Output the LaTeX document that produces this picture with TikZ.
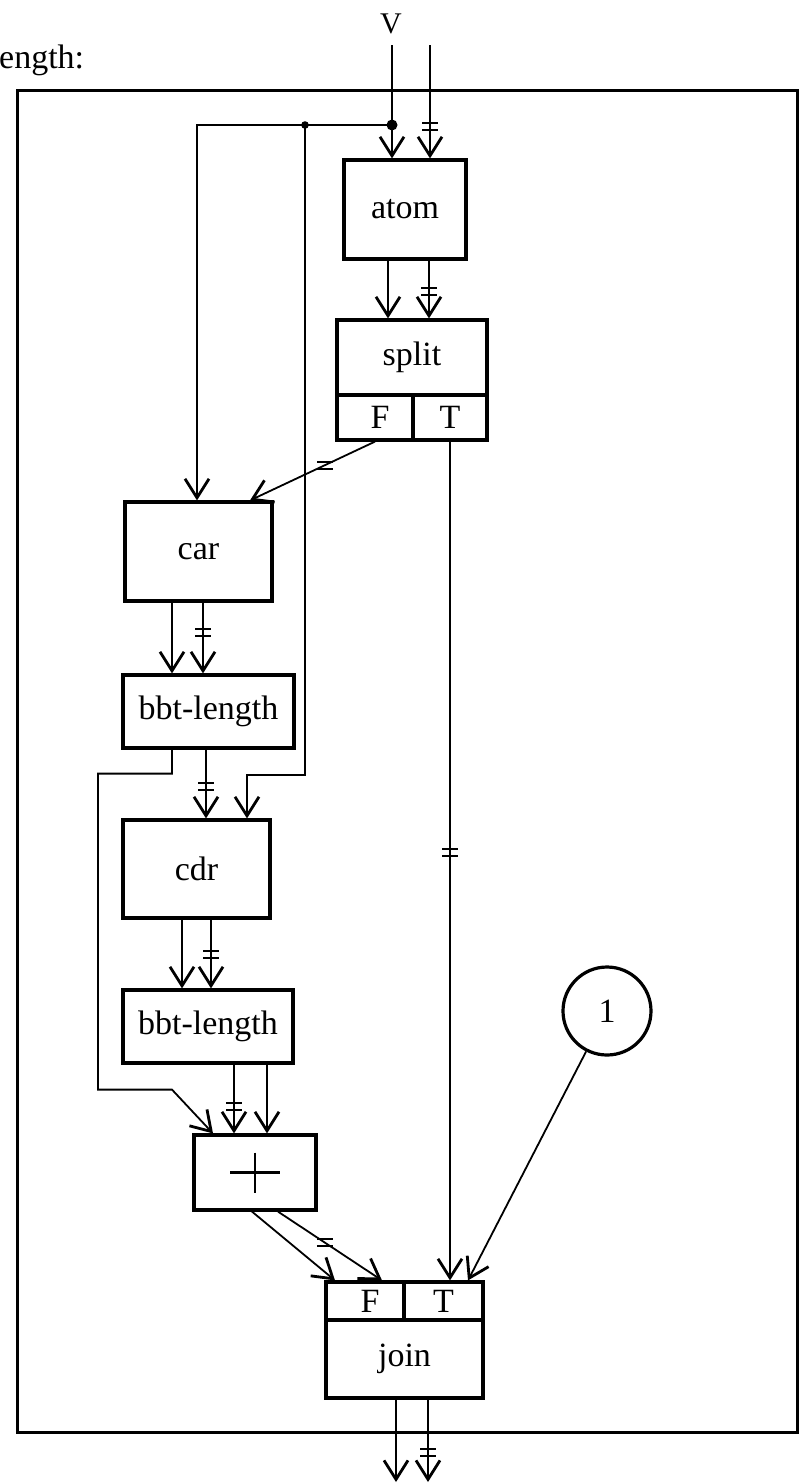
\documentclass[tikz,border=0pt]{standalone}
\usepackage{fontspec}
\setmainfont{Liberation Serif}
\usetikzlibrary{arrows.meta,calc}
\newcommand\tk[1]{\draw[line width=2pt] ([xshift=-8pt,yshift=3.5pt]#1) -- ++(16,0) ([xshift=-8pt,yshift=-3.5pt]#1) -- ++(16,0);}
\begin{document}
\begin{tikzpicture}[x=1pt,y=-1pt,
  box/.style={draw, line width=3.2pt, inner sep=0pt, font=\fontsize{34}{40}\selectfont},
  wire/.style={line width=1.8pt},
  arr/.style={wire, -{Straight Barb[length=19pt,width=24pt,line width=2.8pt]}},
  lab/.style={inner sep=0pt, font=\fontsize{34}{40}\selectfont}
]
\useasboundingbox (0,0) rectangle (799,1484);
% frame and labels
\node[draw, line width=3pt, minimum width=780pt, minimum height=1342pt, inner sep=0pt] (frame) at (407,761) {};
\node[lab, anchor=base west] (title) at (-1,68) {ength:};
\node[lab, anchor=base, font=\fontsize{30}{36}\selectfont] (vlab) at (391,33) {V};
% boxes
\node[box, minimum width=122pt, minimum height=99pt] (atom) at (405,209.5) {atom};
\node[box, minimum width=150pt, minimum height=75pt] (split) at (412,357.5) {split};
\node[box, minimum width=76pt, minimum height=45pt] (splitF) at (375,417.5) {\hspace*{10pt}F};
\node[box, minimum width=74pt, minimum height=45pt] (splitT) at (450,417.5) {T};
\node[box, minimum width=147pt, minimum height=99pt] (car) at (198.5,551.5) {car};
\node[box, minimum width=171pt, minimum height=73pt] (bbt1) at (208.5,711.5) {bbt-length};
\node[box, minimum width=147pt, minimum height=98pt] (cdr) at (196.5,869) {cdr};
\node[box, minimum width=170pt, minimum height=73pt] (bbt2) at (208,1026.5) {bbt-length};
\node[box, minimum width=122pt, minimum height=75pt,
  path picture={\draw[line width=2.2pt] ([xshift=-25pt]path picture bounding box.center) -- ++(50,0)
     ([yshift=20pt]path picture bounding box.center) -- ++(0,40);}] (plus) at (255,1172.5) {};
\node[box, minimum width=78pt, minimum height=38pt] (joinF) at (365,1301) {\hspace*{10pt}F};
\node[box, minimum width=79pt, minimum height=38pt] (joinT) at (443.5,1301) {T};
\node[box, minimum width=157pt, minimum height=78pt] (join) at (404.5,1359) {join};
\node[box, circle, minimum size=88pt] (one) at (607,1011) {1};
% coordinates
\coordinate (vin1) at (392,45);
\coordinate (vin2) at (430,45);
\coordinate (dot1) at (392,125);
\coordinate (dot2) at (305,125);
\coordinate (out) at (0,1482);
\coordinate (a1) at ([xshift=-17pt]atom.south);
\coordinate (a2) at ([xshift=24pt]atom.south);
\coordinate (c1) at ([xshift=-26.5pt]car.south);
\coordinate (c2) at ([xshift=4.5pt]car.south);
\coordinate (b1) at ([xshift=-36.5pt]bbt1.south);
\coordinate (b2) at ([xshift=-2.5pt]bbt1.south);
\coordinate (d1) at ([xshift=-14.5pt]cdr.south);
\coordinate (d2) at ([xshift=14.5pt]cdr.south);
\coordinate (e1) at ([xshift=26pt]bbt2.south);
\coordinate (e2) at ([xshift=59pt]bbt2.south);
\coordinate (p1) at ([xshift=-3pt]plus.south);
\coordinate (p2) at ([xshift=23pt]plus.south);
\coordinate (f1) at ([xshift=-8.5pt]join.south);
\coordinate (f2) at ([xshift=23.5pt]join.south);
% inputs
\draw[arr] (vin1) -- (vin1 |- atom.north);
\draw[arr] (vin2) -- coordinate[pos=0.72] (t1) (vin2 |- atom.north);
\tk{t1}
\fill (dot1) circle (5.5pt);
\fill (dot2) circle (3.8pt);
\draw[arr] (dot1) -| ([xshift=-1.5pt]car.north);
\draw[arr] (dot2) -- ++(0,650) -| ([xshift=50.5pt]cdr.north);
% atom -> split
\draw[arr] (a1) -- (a1 |- split.north);
\draw[arr] (a2) -- coordinate[pos=0.54] (t2) (a2 |- split.north);
\tk{t2}
% split -> car, split -> join
\draw[arr] (splitF.south) -- coordinate[pos=0.4] (t3) ([xshift=51.5pt]car.north);
\tk{t3}
\draw[arr] (splitT.south) -- coordinate[pos=0.49] (t4) (splitT.south |- joinT.north);
\tk{t4}
% car -> bbt1
\draw[arr] (c1) -- (c1 |- bbt1.north);
\draw[arr] (c2) -- coordinate[pos=0.42] (t5) (c2 |- bbt1.north);
\tk{t5}
% bbt1 -> plus, bbt1 -> cdr
\draw[arr] (b1) -- ++(0,24) -| ++(-74,316) -- ++(74,0) -- ([xshift=-42pt]plus.north);
\draw[arr] (b2) -- coordinate[pos=0.54] (t6) (b2 |- cdr.north);
\tk{t6}
% cdr -> bbt2
\draw[arr] (d1) -- (d1 |- bbt2.north);
\draw[arr] (d2) -- coordinate[pos=0.5] (t7) (d2 |- bbt2.north);
\tk{t7}
% bbt2 -> plus
\draw[arr] (e1) -- coordinate[pos=0.61] (t8) (e1 |- plus.north);
\tk{t8}
\draw[arr] (e2) -- (e2 |- plus.north);
% plus -> join
\draw[arr] (p1) -- ([xshift=-30pt]joinF.north);
\draw[arr] (p2) -- coordinate[pos=0.45] (t9) ([xshift=17pt]joinF.north);
\tk{t9}
% constant -> join
\draw[arr] (one) -- ([xshift=24.5pt]joinT.north);
% outputs
\draw[arr] (f1) -- (f1 |- out);
\draw[arr] (f2) -- coordinate[pos=0.64] (t10) (f2 |- out);
\tk{t10}
\end{tikzpicture}
\end{document}
